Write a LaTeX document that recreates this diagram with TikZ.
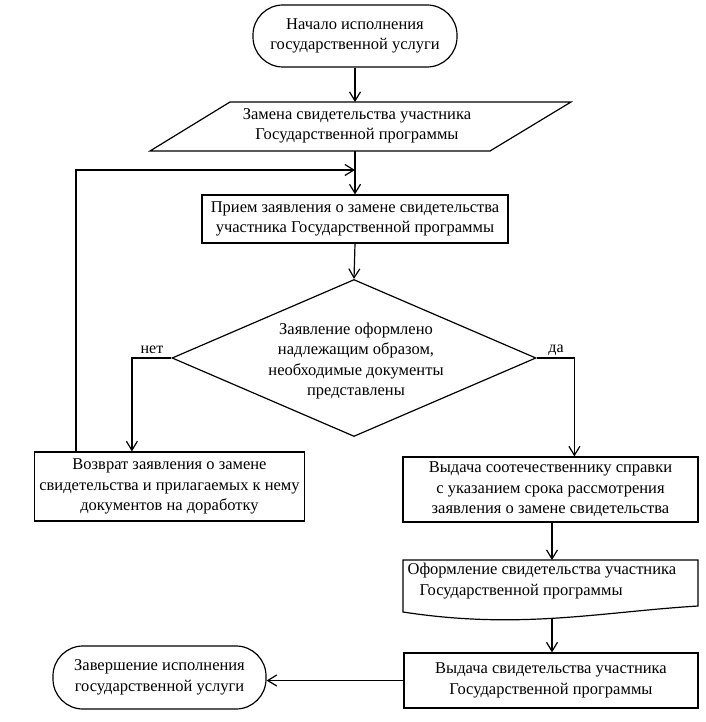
\documentclass[tikz,border=0pt]{standalone}
\usepackage{fontspec}
\setmainfont{Liberation Serif}
\usetikzlibrary{arrows.meta,shapes.geometric}
\begin{document}
\begin{tikzpicture}[x=1pt,y=-1pt, line width=1.2pt,
  every node/.style={font=\fontsize{16.5}{20.5}\selectfont, align=center, inner sep=0pt},
  term/.style={draw, rectangle, rounded corners=30pt},
  box/.style={draw, rectangle},
  arr/.style={-{Straight Barb[length=9pt,width=11pt]}},
  lbl/.style={font=\fontsize{16}{18}\selectfont}]
\useasboundingbox[fill=white] (0,0) rectangle (705,722);

\node[term, minimum width=204pt, minimum height=62pt] (start) at (355,36) {Начало исполнения\\государственной услуги};

\draw (230,102) -- (571,102) -- (490,151) -- (150,151) -- cycle;
\node (par) at (357,126) {Замена свидетельства участника\\Государственной программы};
\coordinate (parT) at (355,102);
\coordinate (parB) at (355,151);

\node[box, minimum width=306pt, minimum height=48pt] (recv) at (355,219) {Прием заявления о замене свидетельства\\участника Государственной программы};

\node[draw, diamond, aspect=2.32, minimum width=364pt, minimum height=157pt] (dec) at (354,358) {};
\node (dectext) at (356,361) {Заявление оформлено\\надлежащим образом,\\необходимые документы\\представлены};

\node[box, minimum width=270pt, minimum height=69pt] (ret) at (169.5,486.5) {Возврат заявления о замене\\свидетельства и прилагаемых к нему\\документов на доработку};

\node[box, minimum width=295pt, minimum height=65pt] (spr) at (550.5,489.5) {Выдача соотечественнику справки\\с указанием срока рассмотрения\\заявления о замене свидетельства};

\draw (403,560) -- (698,560) -- (698,606) .. controls (600,612) and (520,630) .. (403,612) -- cycle;
\node[anchor=west, align=left] (doc) at (407,581) {Оформление свидетельства участника\\\hspace*{12pt}Государственной программы};
\coordinate (docT) at (552,560);
\coordinate (docB) at (552,618);

\node[box, minimum width=294pt, minimum height=55pt] (fin) at (551,680.5) {Выдача свидетельства участника\\Государственной программы};

\node[term, minimum width=213pt, minimum height=63pt] (end) at (159.5,677.5) {Завершение исполнения\\государственной услуги};

\coordinate (fb) at (355,170);

\draw[arr] (start) -- (parT);
\draw[arr] (parB) -- (recv.north);
\draw[arr] ([xshift=42pt]ret.north west) |- (fb);
\draw[arr] (recv.south) -- (dec.north);
\draw[arr] (dec.west) -| ([xshift=98pt]ret.north west);
\draw[arr] (dec.east) -| ([xshift=172pt]spr.north west);
\node[lbl, anchor=south] (no) at (152,354) {нет};
\node[lbl, anchor=south] (yes) at (556,356) {да};
\draw[arr] (docT |- spr.south) -- (docT);
\draw[arr] (docB) -- (docB |- fin.north);
\draw[arr] (fin.west) -- (fin.west -| end.east);
\end{tikzpicture}
\end{document}
